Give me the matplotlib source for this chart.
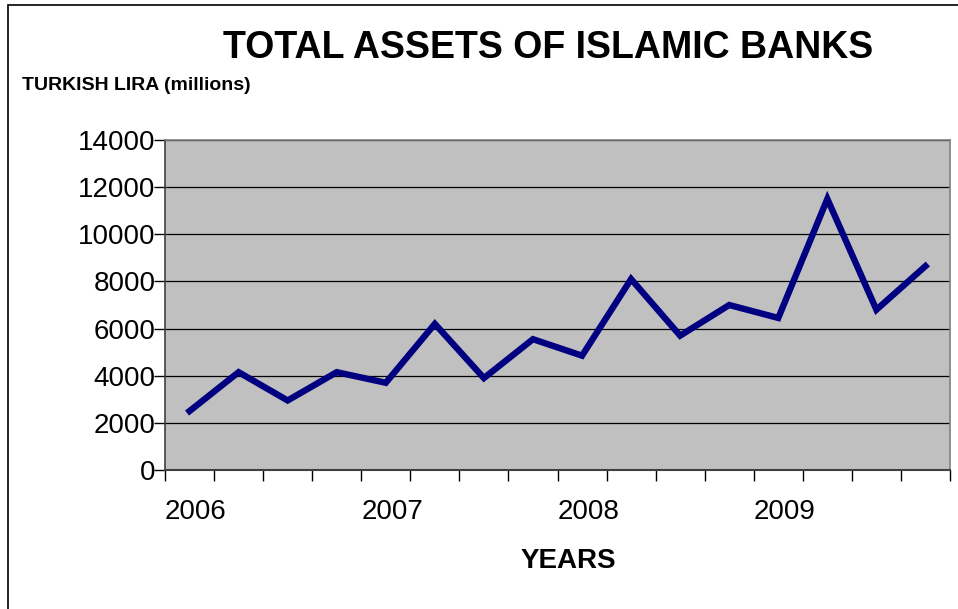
import matplotlib
matplotlib.use("Agg")
import matplotlib.pyplot as plt
from matplotlib.patches import Rectangle

plt.rcParams['font.family'] = ['Liberation Sans', 'DejaVu Sans']

years = ["2006", "2007", "2008", "2009"]
quarters = list(range(16))
assets = [2500, 4150, 2950, 4150, 3700, 6200, 3900, 5550,
          4850, 8100, 5700, 7000, 6450, 11500, 6800, 8650]
yticks = [0, 2000, 4000, 6000, 8000, 10000, 12000, 14000]

W, H = 958, 609
fig = plt.figure(figsize=(W / 100, H / 100), dpi=100)
fig.patch.set_facecolor('white')
fig.patches.append(Rectangle((8 / W, -0.01), 1.0, 1 - 5 / H + 0.01, transform=fig.transFigure,
                             fill=False, edgecolor='black', linewidth=1.2))

ax = fig.add_axes([165 / W, 1 - 470 / H, (950 - 165) / W, (470 - 140) / H])
ax.set_facecolor('#C0C0C0')
ax.plot(quarters, assets, color='#000080', linewidth=4.6, solid_joinstyle='miter', zorder=3)

ax.set_xlim(-0.5, 15.5)
ax.set_ylim(0, 14000)
ax.set_yticks(yticks)
ax.set_yticklabels([str(v) for v in yticks], fontsize=20)
ax.yaxis.grid(True, color='black', linewidth=0.9)
ax.set_axisbelow(True)

bounds = [i - 0.5 for i in range(17)]
labels = [''] * 17
for k, yr in enumerate(years):
    labels[4 * k] = yr
ax.set_xticks(bounds)
ax.set_xticklabels(labels, fontsize=20)
for t in ax.get_xticklabels():
    t.set_horizontalalignment('left')

ax.tick_params(axis='y', length=8, width=1, color='black', pad=-1)
ax.tick_params(axis='x', length=8, width=1, color='black', pad=13)

for s in ['top', 'right']:
    ax.spines[s].set_color('#808080')
    ax.spines[s].set_linewidth(1.2)
ax.spines['left'].set_color('#404040')
ax.spines['bottom'].set_color('#404040')
ax.spines['left'].set_linewidth(1.2)
ax.spines['bottom'].set_linewidth(1.5)

fig.text(548 / W, 1 - 48 / H, "TOTAL ASSETS OF ISLAMIC BANKS", fontsize=27,
         fontweight='bold', ha='center', va='center')
fig.text(22 / W, 1 - 86 / H, "TURKISH LIRA (millions)", fontsize=14,
         fontweight='bold', ha='left', va='center')
fig.text(568 / W, 1 - 561 / H, "YEARS", fontsize=20,
         fontweight='bold', ha='center', va='center')

fig.savefig("out.png", dpi=100)
